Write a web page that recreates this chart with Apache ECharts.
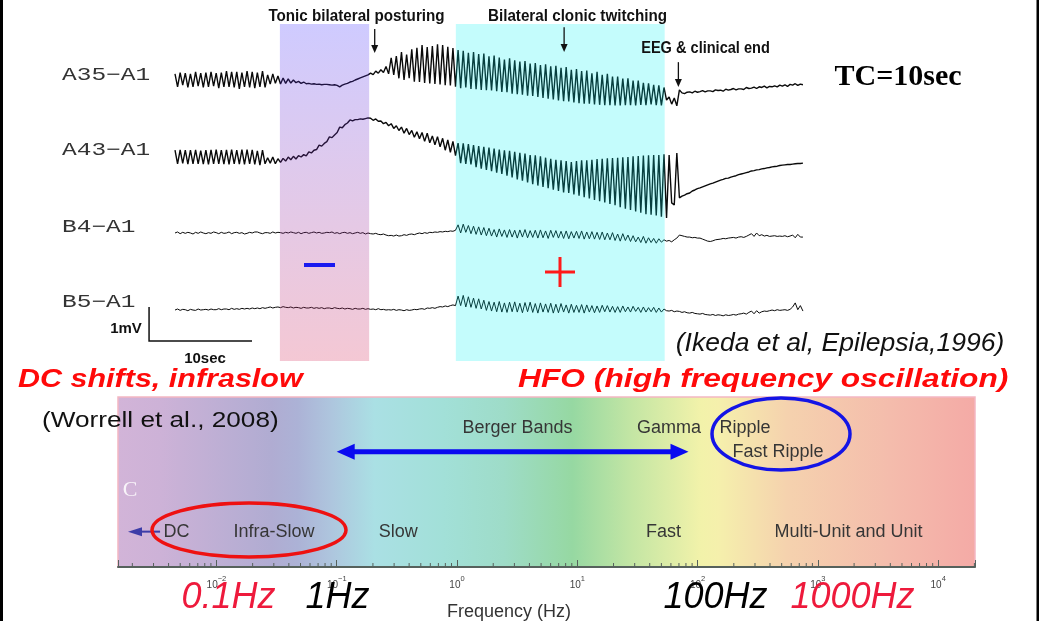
<!DOCTYPE html>
<html>
<head>
<meta charset="utf-8">
<script src="https://cdn.jsdelivr.net/npm/echarts@6/dist/echarts.min.js"></script>
<style>
  html, body { margin: 0; padding: 0; background: #ffffff; }
  #chart { width: 1039px; height: 621px; }
</style>
</head>
<body>
<div id="chart"></div>
<script>
// ---------- Ictal EEG recording (Ikeda et al., Epilepsia 1996), TC = 10 s ----------
const timeStep = 0.25;                     // seconds between samples
const channelNames = ['A35−A1', 'A43−A1', 'B4−A1', 'B5−A1'];
const channelBaseline = [8.265, 6.0, 3.765, 1.529];   // mV offset of each trace on the page

// amplitudes in mV relative to each channel's baseline, one row per second
const a35 = [
  .18,-.2,.22,-.15,  .2,-.22,.18,-.2,  .24,-.18,.2,-.22,  .22,-.2,.24,-.18,
  .2,-.24,.22,-.2,  .26,-.2,.24,-.22,  .24,-.26,.22,-.2,  .26,-.22,.24,-.24,
  .22,-.2,.26,-.22,  .15,-.12,.18,-.1,  .12,-.12,.06,-.1,  .03,-.09,0,-.08,
  -.04,-.1,-.06,-.11,  -.1,-.12,-.11,-.13,  -.12,-.14,-.13,-.13,  -.14,-.15,-.14,-.16,
  -.2,-.15,-.12,-.1,  -.06,-.04,0,.03,  .06,.09,.12,.15,  .2,.16,.26,.2,
  .3,.22,.4,.18,  .65,.15,.7,.05,  .82,0,.75,.05,  .9,-.05,.95,-.06,
  1.03,-.09,.97,-.1,  1,-.12,1.05,-.13,  1.03,-.15,.98,-.16,  .94,-.2,.88,-.24,
  .86,-.22,.8,-.26,  .82,-.27,.76,-.29,  .78,-.3,.7,-.31,  .72,-.33,.66,-.35,
  .6,-.36,.64,-.4,  .58,-.42,.54,-.43,  .56,-.46,.48,-.47,  .5,-.5,.44,-.53,
  .46,-.55,.4,-.57,  .42,-.6,.36,-.62,  .38,-.63,.3,-.66,  .32,-.68,.26,-.7,
  .28,-.7,.2,-.72,  .24,-.73,.15,-.74,  .18,-.74,.1,-.75,  .1,-.75,.04,-.74,
  .05,-.74,-.02,-.75,  -.02,-.73,-.08,-.74,  -.1,-.72,-.14,-.74,  -.16,-.75,-.22,-.59,
  -.5,-.71,-.53,-.76,  -.29,-.38,-.4,-.36,  -.35,-.38,-.33,-.36,  -.34,-.31,-.35,-.32,
  -.32,-.34,-.29,-.31,  -.3,-.33,-.27,-.3,  -.28,-.25,-.29,-.26,  -.26,-.28,-.22,-.25,
  -.24,-.21,-.25,-.2,  -.22,-.18,-.23,-.19,  -.2,-.17,-.2,-.15,  -.18,-.14,-.19,-.13,
  -.15,-.11,-.16,-.12,  -.14
];
const a43 = [
  .2,-.2,.21,-.19,  .2,-.21,.2,-.2,  .21,-.2,.19,-.21,  .2,-.22,.21,-.2,
  .22,-.2,.2,-.21,  .21,-.22,.22,-.2,  .2,-.21,.22,-.22,  .22,-.2,.21,-.22,
  .18,-.24,.2,-.2,  -.02,-.18,0,-.2,  -.05,-.16,-.04,-.12,  0,-.08,.02,-.06,
  .04,0,.07,.03,  .15,.12,.2,.22,  .35,.32,.4,.45,  .59,.57,.65,.72,
  .88,.86,.95,1,  1.09,1.06,1.1,1.1,  1.12,1.11,1.13,1.15,  1.14,1.08,1.12,1.05,
  1.06,.98,1.02,.92,  .98,.84,.92,.78,  .88,.7,.84,.66,  .78,.58,.74,.54,
  .72,.46,.7,.42,  .62,.36,.6,.3,  .55,.2,.5,.14,  .46,.04,.41,-.18,
  .4,-.2,.38,-.22,  .35,-.3,.32,-.34,  .3,-.38,.28,-.42,  .25,-.46,.22,-.5,
  .2,-.55,.18,-.6,  .15,-.66,.12,-.7,  .1,-.75,.06,-.8,  .05,-.84,.02,-.88,
  -.02,-.92,-.05,-.96,  -.08,-1,-.1,-1.04,  -.12,-1.06,-.15,-1.1,  -.12,-1.14,-.1,-1.18,
  -.1,-1.22,-.08,-1.26,  -.06,-1.3,-.05,-1.34,  -.04,-1.38,-.03,-1.42,  -.02,-1.48,-.01,-1.52,
  0,-1.56,.02,-1.6,  .03,-1.64,.04,-1.68,  .05,-1.7,.06,-1.72,  .06,-1.76,.08,-1.79,
  .06,-1.35,-1.41,.12,  -1.2,-1.15,-1.12,-1.08,  -1.06,-1,-.97,-.93,  -.91,-.88,-.85,-.82,
  -.79,-.77,-.74,-.71,  -.68,-.66,-.63,-.62,  -.59,-.57,-.55,-.52,  -.5,-.48,-.46,-.44,
  -.41,-.4,-.38,-.37,  -.35,-.34,-.32,-.31,  -.29,-.28,-.27,-.25,  -.24,-.23,-.22,-.22,
  -.21,-.2,-.19,-.19,  -.18
];
const b4 = [
  0,.03,-.02,.02,  -.01,.02,0,-.03,  .02,-.01,.03,0,  -.02,.01,-.01,.03,
  .01,-.02,.02,-.01,  0,.03,-.02,.01,  .02,-.01,.01,-.03,  -.01,.02,0,.03,
  .03,0,-.02,.01,  .01,-.01,.03,0,  .02,.01,-.01,.02,  0,.03,.01,-.01,
  .02,-.02,.01,.02,  -.01,.01,.03,0,  .02,-.01,0,.02,  .01,.03,-.01,.01,
  -.02,.01,.02,-.01,  .01,-.02,0,.02,  -.01,.01,-.03,0,  -.02,-.03,-.01,-.04,
  -.05,-.03,-.06,-.08,  -.07,-.09,-.06,-.09,  -.08,-.05,-.07,-.04,  -.03,-.05,-.02,0,
  -.02,.01,-.01,.02,  .01,.03,.02,.04,  .03,.05,.04,.06,  .05,.08,.24,0,
  .26,.02,.22,-.02,  .2,-.04,.18,-.06,  .16,-.08,.14,-.09,  .1,-.12,.12,-.1,
  .09,-.13,.1,-.12,  .08,-.15,.09,-.12,  .1,-.14,.07,-.13,  .08,-.15,.09,-.14,
  .06,-.16,.08,-.13,  .07,-.15,.05,-.16,  .06,-.17,.04,-.15,  .05,-.16,.06,-.18,
  .03,-.17,.04,-.18,  .02,-.19,.03,-.2,  0,-.2,.01,-.22,  -.03,-.24,-.02,-.22,
  -.06,-.25,-.08,-.26,  -.12,-.28,-.1,-.3,  -.14,-.28,-.16,-.3,  -.17,-.27,-.2,-.24,
  -.22,-.26,-.2,-.15,  -.06,-.08,-.1,-.12,  -.12,-.14,-.13,-.15,  -.15,-.18,-.21,-.24,
  -.25,-.23,-.2,-.19,  -.18,-.16,-.17,-.15,  -.14,-.13,-.15,-.12,  -.11,-.13,-.1,-.06,
  -.02,-.1,0,-.08,  -.05,-.09,-.07,-.1,  -.09,-.08,-.1,-.09,  -.1,-.08,-.11,-.09,
  -.06,-.14,-.04,-.12,  -.12
];
const b5 = [
  -.03,0,-.04,-.01,  -.02,-.05,-.01,-.03,  -.04,0,-.03,-.02,  -.01,-.03,0,-.02,
  -.02,.01,-.02,0,  0,-.02,.02,-.01,  .01,-.01,.02,0,  .02,0,.03,.01,
  .03,.01,.04,.02,  .04,.06,.03,.05,  .06,.04,.07,.05,  .04,.06,.03,.05,
  .04,.02,.05,.03,  .03,.05,.02,.04,  .02,.04,.01,.03,  .03,.01,.04,.02,
  .01,.03,0,.02,  .01,-.01,.02,0,  0,.02,-.01,.01,  -.01,0,-.02,.01,
  -.02,-.01,-.03,-.02,  -.03,-.01,-.04,-.02,  -.03,-.05,-.02,-.04,  -.03,-.01,-.02,0,
  .01,-.01,.03,.02,  .04,.02,.05,.07,  .06,.09,.07,.1,  .12,.1,.38,.1,
  .4,.06,.36,.05,  .32,.02,.3,0,  .26,-.04,.22,-.06,  .2,-.08,.22,-.09,
  .18,-.1,.2,-.08,  .21,-.09,.17,-.11,  .19,-.08,.2,-.1,  .16,-.12,.18,-.09,
  .15,-.1,.17,-.12,  .14,-.11,.16,-.09,  .12,-.12,.14,-.1,  .11,-.1,.13,-.12,
  .12,-.09,.1,-.11,  .09,-.1,.11,-.08,  .1,-.09,.08,-.1,  .07,-.1,.09,-.08,
  .06,-.09,.08,-.07,  .05,-.1,.06,-.09,  .04,-.08,.05,-.1,  .03,-.09,0,-.05,
  -.06,-.04,-.08,-.06,  -.07,-.1,-.08,-.11,  -.12,-.1,-.13,-.14,  -.15,-.13,-.16,-.17,
  -.18,-.16,-.19,-.17,  -.18,-.2,-.17,-.19,  -.18,-.16,-.18,-.15,  -.14,-.12,-.15,-.1,
  -.06,-.14,-.05,-.12,  -.08,-.06,-.07,-.05,  -.03,-.05,-.02,-.04,  -.03,-.02,-.04,-.01,
  .06,.18,-.02,.1,  -.06
];
const channelData = [a35, a43, b4, b5];

// seizure phases (s)
const phaseStart = [10.19, 27.28];
const phaseEnd = [18.86, 47.57];
// clinical events (s) marked by arrows
const eventNames = ['Tonic bilateral posturing', 'Bilateral clonic twitching', 'EEG & clinical end'];
const eventTimes = [19.4, 37.8, 48.9];
// calibration bar
const scaleBarMv = 1;
const scaleBarSec = 10;

// ---------- Frequency bands of brain activity (Worrell et al., 2008) ----------
const bandLabels = ['Berger Bands', 'Gamma', 'Ripple', 'Fast Ripple', 'DC', 'Infra-Slow', 'Slow', 'Fast', 'Multi-Unit and Unit'];
const bandFreqs  = [3.18, 57.8, 248, 466, 0.00466, 0.0301, 0.325, 52.1, 1796];
const bandRows   = [0.818, 0.818, 0.818, 0.678, 0.208, 0.208, 0.208, 0.208, 0.208];
const bergerRange = [0.1, 84];             // Hz
const dcArrow = [0.0034, 0.00184];         // Hz, tail -> head
const freqMin = 0.00152, freqMax = 20230;  // Hz
const hzMarks = ['0.1Hz', '1Hz', '100Hz', '1000Hz'];

// ---------- helpers ----------
const EEG_YMAX = 9.912;
function arrowGroup(a, b, w, hl, hw, color, both) {
  const dx = b[0] - a[0], dy = b[1] - a[1], L = Math.hypot(dx, dy);
  const ux = dx / L, uy = dy / L, nx = -uy, ny = ux;
  const head = (tip, dir) => ({
    type: 'polygon',
    shape: { points: [
      [tip[0], tip[1]],
      [tip[0] - dir * ux * hl + nx * hw, tip[1] - dir * uy * hl + ny * hw],
      [tip[0] - dir * ux * hl - nx * hw, tip[1] - dir * uy * hl - ny * hw]
    ] },
    style: { fill: color }
  });
  const s = both ? [a[0] + ux * hl * 0.9, a[1] + uy * hl * 0.9] : a;
  const e = [b[0] - ux * hl * 0.9, b[1] - uy * hl * 0.9];
  const children = [
    { type: 'line', shape: { x1: s[0], y1: s[1], x2: e[0], y2: e[1] }, style: { stroke: color, lineWidth: w } },
    head(b, 1)
  ];
  if (both) children.push(head(a, -1));
  return { type: 'group', children };
}
function txt(x, y, text, font, fill, align, sx) {
  return {
    type: 'text', x, y, z: 50, scaleX: sx || 1,
    style: { text, font, fill, align: align || 'center', verticalAlign: 'middle',
             textAlign: align || 'center', textVerticalAlign: 'middle' }
  };
}

const chart = echarts.init(document.getElementById('chart'), null, { renderer: 'canvas' });

const traceSeries = channelData.map((vals, i) => ({
  name: channelNames[i],
  type: 'line',
  xAxisIndex: 0, yAxisIndex: 0,
  symbol: 'none',
  lineStyle: { color: '#0a0a0a', width: i < 2 ? 1.4 : 1 },
  data: vals.map((v, k) => [k * timeStep, v + channelBaseline[i]]),
  z: 2
}));

// rainbow background of the frequency axis
const spectrumFill = new echarts.graphic.LinearGradient(0, 0, 1, 0, [
  { offset: 0.00, color: '#d2b4d8' }, { offset: 0.05, color: '#cdb2d7' },
  { offset: 0.18, color: '#b0acd2' }, { offset: 0.21, color: '#acb2d6' },
  { offset: 0.25, color: '#aec6de' }, { offset: 0.30, color: '#aae0e4' },
  { offset: 0.38, color: '#a2e0d8' }, { offset: 0.45, color: '#9edcc8' },
  { offset: 0.53, color: '#96d8a2' }, { offset: 0.60, color: '#c4e6a4' },
  { offset: 0.68, color: '#f2f2aa' }, { offset: 0.70, color: '#f5f0ac' },
  { offset: 0.78, color: '#f5d2ae' }, { offset: 0.90, color: '#f4bcac' },
  { offset: 1.00, color: '#f4aaa6' }
]);

const tonicFill = new echarts.graphic.LinearGradient(0, 0, 0, 1, [
  { offset: 0, color: 'rgba(63,47,255,0.25)' },
  { offset: 1, color: 'rgba(211,35,83,0.25)' }
]);
const clonicFill = 'rgba(0,240,240,0.23)';

// minor ticks of the log frequency axis (2..9 x 10^k)
const minorTicks = [];
for (let k = -3; k <= 4; k++) {
  for (let m = 2; m <= 9; m++) {
    const f = m * Math.pow(10, k);
    if (f > freqMin && f < freqMax) minorTicks.push([f]);
  }
}

const option = {
  animation: false,
  backgroundColor: '#ffffff',
  grid: [
    { left: 175, top: 24, width: 630, height: 337, outerBoundsMode: 'none' },
    { left: 118, top: 397, width: 857, height: 170, show: true,
      backgroundColor: spectrumFill, borderColor: '#f3b6c2', borderWidth: 1.5, outerBoundsMode: 'none' }
  ],
  xAxis: [
    { type: 'value', gridIndex: 0, min: 0, max: 61.2, show: false },
    { type: 'log', gridIndex: 1, logBase: 10, min: freqMin, max: freqMax,
      axisLine: { show: true, lineStyle: { color: '#56615c', width: 2 } },
      axisTick: { show: true, inside: true, length: 7, lineStyle: { color: '#56615c', width: 1 } },
      splitLine: { show: false },
      axisLabel: {
        margin: 8,
        formatter: (v) => {
          const l = Math.log10(v), e = Math.round(l);
          if (Math.abs(l - e) > 1e-6) return '';
          return '{b|10}{s|' + (e < 0 ? '−' + (-e) : e) + '}';
        },
        rich: {
          b: { fontSize: 10, color: '#444', fontFamily: 'Liberation Sans', lineHeight: 15, verticalAlign: 'bottom' },
          s: { fontSize: 7.5, color: '#444', fontFamily: 'Liberation Sans', lineHeight: 9, verticalAlign: 'top' }
        }
      }
    }
  ],
  yAxis: [
    { type: 'value', gridIndex: 0, min: 0, max: EEG_YMAX, show: false },
    { type: 'value', gridIndex: 1, min: 0, max: 1, show: false }
  ],
  series: [
    ...traceSeries,
    // calibration bar: 1 mV x 10 s, drawn left of the traces
    { type: 'custom', xAxisIndex: 0, yAxisIndex: 0, z: 3, silent: true, clip: false,
      data: [[-2.52, 0.588]],
      renderItem: (params, api) => {
        const o = [api.value(0), api.value(1)];
        const pts = [[o[0], o[1] + scaleBarMv], o, [o[0] + scaleBarSec, o[1]]].map(p => api.coord(p));
        return { type: 'polyline', shape: { points: pts }, style: { stroke: '#111', lineWidth: 1.5, fill: null } };
      } },
    // tonic and clonic phases
    { type: 'custom', xAxisIndex: 0, yAxisIndex: 0, z: 5, silent: true,
      data: phaseStart.map((s, i) => [s, phaseEnd[i]]),
      renderItem: (params, api) => {
        const p0 = api.coord([api.value(0), EEG_YMAX]);
        const p1 = api.coord([api.value(1), 0]);
        return { type: 'rect', shape: { x: p0[0], y: p0[1], width: p1[0] - p0[0], height: p1[1] - p0[1] },
                 style: { fill: params.dataIndex === 0 ? tonicFill : clonicFill } };
      } },
    // event arrows
    { type: 'custom', xAxisIndex: 0, yAxisIndex: 0, z: 6, silent: true,
      data: [[eventTimes[0], 9.765, 9.06], [eventTimes[1], 9.82, 9.09], [eventTimes[2], 8.79, 8.06]],
      renderItem: (params, api) => {
        const a = api.coord([api.value(0), api.value(1)]);
        const b = api.coord([api.value(0), api.value(2)]);
        return arrowGroup(a, b, 1.3, 8, 3.5, '#111', false);
      } },
    // minor ticks on the frequency axis
    { type: 'custom', xAxisIndex: 1, yAxisIndex: 1, z: 3, silent: true,
      data: minorTicks,
      renderItem: (params, api) => {
        const p = api.coord([api.value(0), 0]);
        return { type: 'line', shape: { x1: p[0], y1: p[1], x2: p[0], y2: p[1] - 4 },
                 style: { stroke: '#56615c', lineWidth: 1 } };
      } },
    // band names
    { type: 'custom', xAxisIndex: 1, yAxisIndex: 1, z: 4, silent: true,
      data: bandFreqs.map((f, i) => [f, bandRows[i]]),
      renderItem: (params, api) => {
        const p = api.coord([api.value(0), api.value(1)]);
        return { type: 'text', x: p[0], y: p[1],
                 style: { text: bandLabels[params.dataIndex], font: '18px "Liberation Sans"', fill: '#363636',
                          align: 'center', verticalAlign: 'middle' } };
      } },
    // Berger band range and the DC arrow
    { type: 'custom', xAxisIndex: 1, yAxisIndex: 1, z: 5, silent: true,
      data: [[bergerRange[0], bergerRange[1], 0.678, 1], [dcArrow[0], dcArrow[1], 0.208, 0]],
      renderItem: (params, api) => {
        const a = api.coord([api.value(0), api.value(2)]);
        const b = api.coord([api.value(1), api.value(2)]);
        return api.value(3) === 1
          ? arrowGroup(a, b, 5, 18, 8, '#0a0af0', true)
          : arrowGroup(a, b, 2, 14, 4.5, '#3c3ca8', false);
      } }
  ],
  graphic: [
    // page frame
    { type: 'rect', z: 60, shape: { x: 0, y: 0, width: 3, height: 621 }, style: { fill: '#000' } },
    { type: 'rect', z: 60, shape: { x: 1036.5, y: 0, width: 2.5, height: 621 }, style: { fill: '#000' } },
    // channel names
    ...channelNames.map((n, i) => txt(62, [75, 150, 227, 302][i], n, '18px "Liberation Mono"', '#333', 'left', 1.36)),
    // event titles
    txt(356.5, 17, eventNames[0], 'bold 16px "Liberation Sans"', '#111', 'center', 0.95),
    txt(577.5, 17, eventNames[1], 'bold 16px "Liberation Sans"', '#111', 'center', 0.95),
    txt(705.5, 49, eventNames[2], 'bold 16px "Liberation Sans"', '#111', 'center', 0.91),
    txt(898, 77, 'TC=10sec', 'bold 30px "Liberation Serif"', '#000'),
    // calibration labels
    txt(126, 329, '1mV', 'bold 15px "Liberation Sans"', '#111'),
    txt(205, 359, '10sec', 'bold 15px "Liberation Sans"', '#111'),
    // polarity marks
    { type: 'rect', z: 50, shape: { x: 304, y: 263, width: 31, height: 4 }, style: { fill: '#1a1af0' } },
    { type: 'line', z: 50, shape: { x1: 545, y1: 272, x2: 575, y2: 272 }, style: { stroke: '#ff1a1a', lineWidth: 3 } },
    { type: 'line', z: 50, shape: { x1: 560, y1: 257, x2: 560, y2: 287 }, style: { stroke: '#ff1a1a', lineWidth: 3 } },
    txt(840, 344, '(Ikeda et al, Epilepsia,1996)', 'italic 25px "Liberation Sans"', '#111', 'center', 1.06),
    txt(18, 380, 'DC shifts, infraslow', 'italic bold 25px "Liberation Sans"', '#ff0a0a', 'left', 1.22),
    txt(518, 380, 'HFO (high frequency oscillation)', 'italic bold 25px "Liberation Sans"', '#ff0a0a', 'left', 1.27),
    txt(42, 421, '(Worrell et al., 2008)', '22px "Liberation Sans"', '#111', 'left', 1.19),
    txt(130, 490, 'C', '22px "Liberation Serif"', 'rgba(255,255,255,0.85)'),
    // highlighted regions of the spectrum
    { type: 'ellipse', z: 55, shape: { cx: 249, cy: 530, rx: 97, ry: 27 }, style: { fill: 'none', stroke: '#ee1111', lineWidth: 3.5 } },
    { type: 'ellipse', z: 55, shape: { cx: 781, cy: 434, rx: 69, ry: 36 }, style: { fill: 'none', stroke: '#1414e6', lineWidth: 3.5 } },
    txt(509, 612, 'Frequency (Hz)', '18px "Liberation Sans"', '#333'),
    txt(228.5, 598, hzMarks[0], 'italic 36px "Liberation Sans"', '#ee1a3c'),
    txt(337.5, 598, hzMarks[1], 'italic 36px "Liberation Sans"', '#000'),
    txt(715.5, 598, hzMarks[2], 'italic 36px "Liberation Sans"', '#000'),
    txt(852.5, 598, hzMarks[3], 'italic 36px "Liberation Sans"', '#ee1a3c')
  ]
};

chart.setOption(option);
</script>
</body>
</html>
